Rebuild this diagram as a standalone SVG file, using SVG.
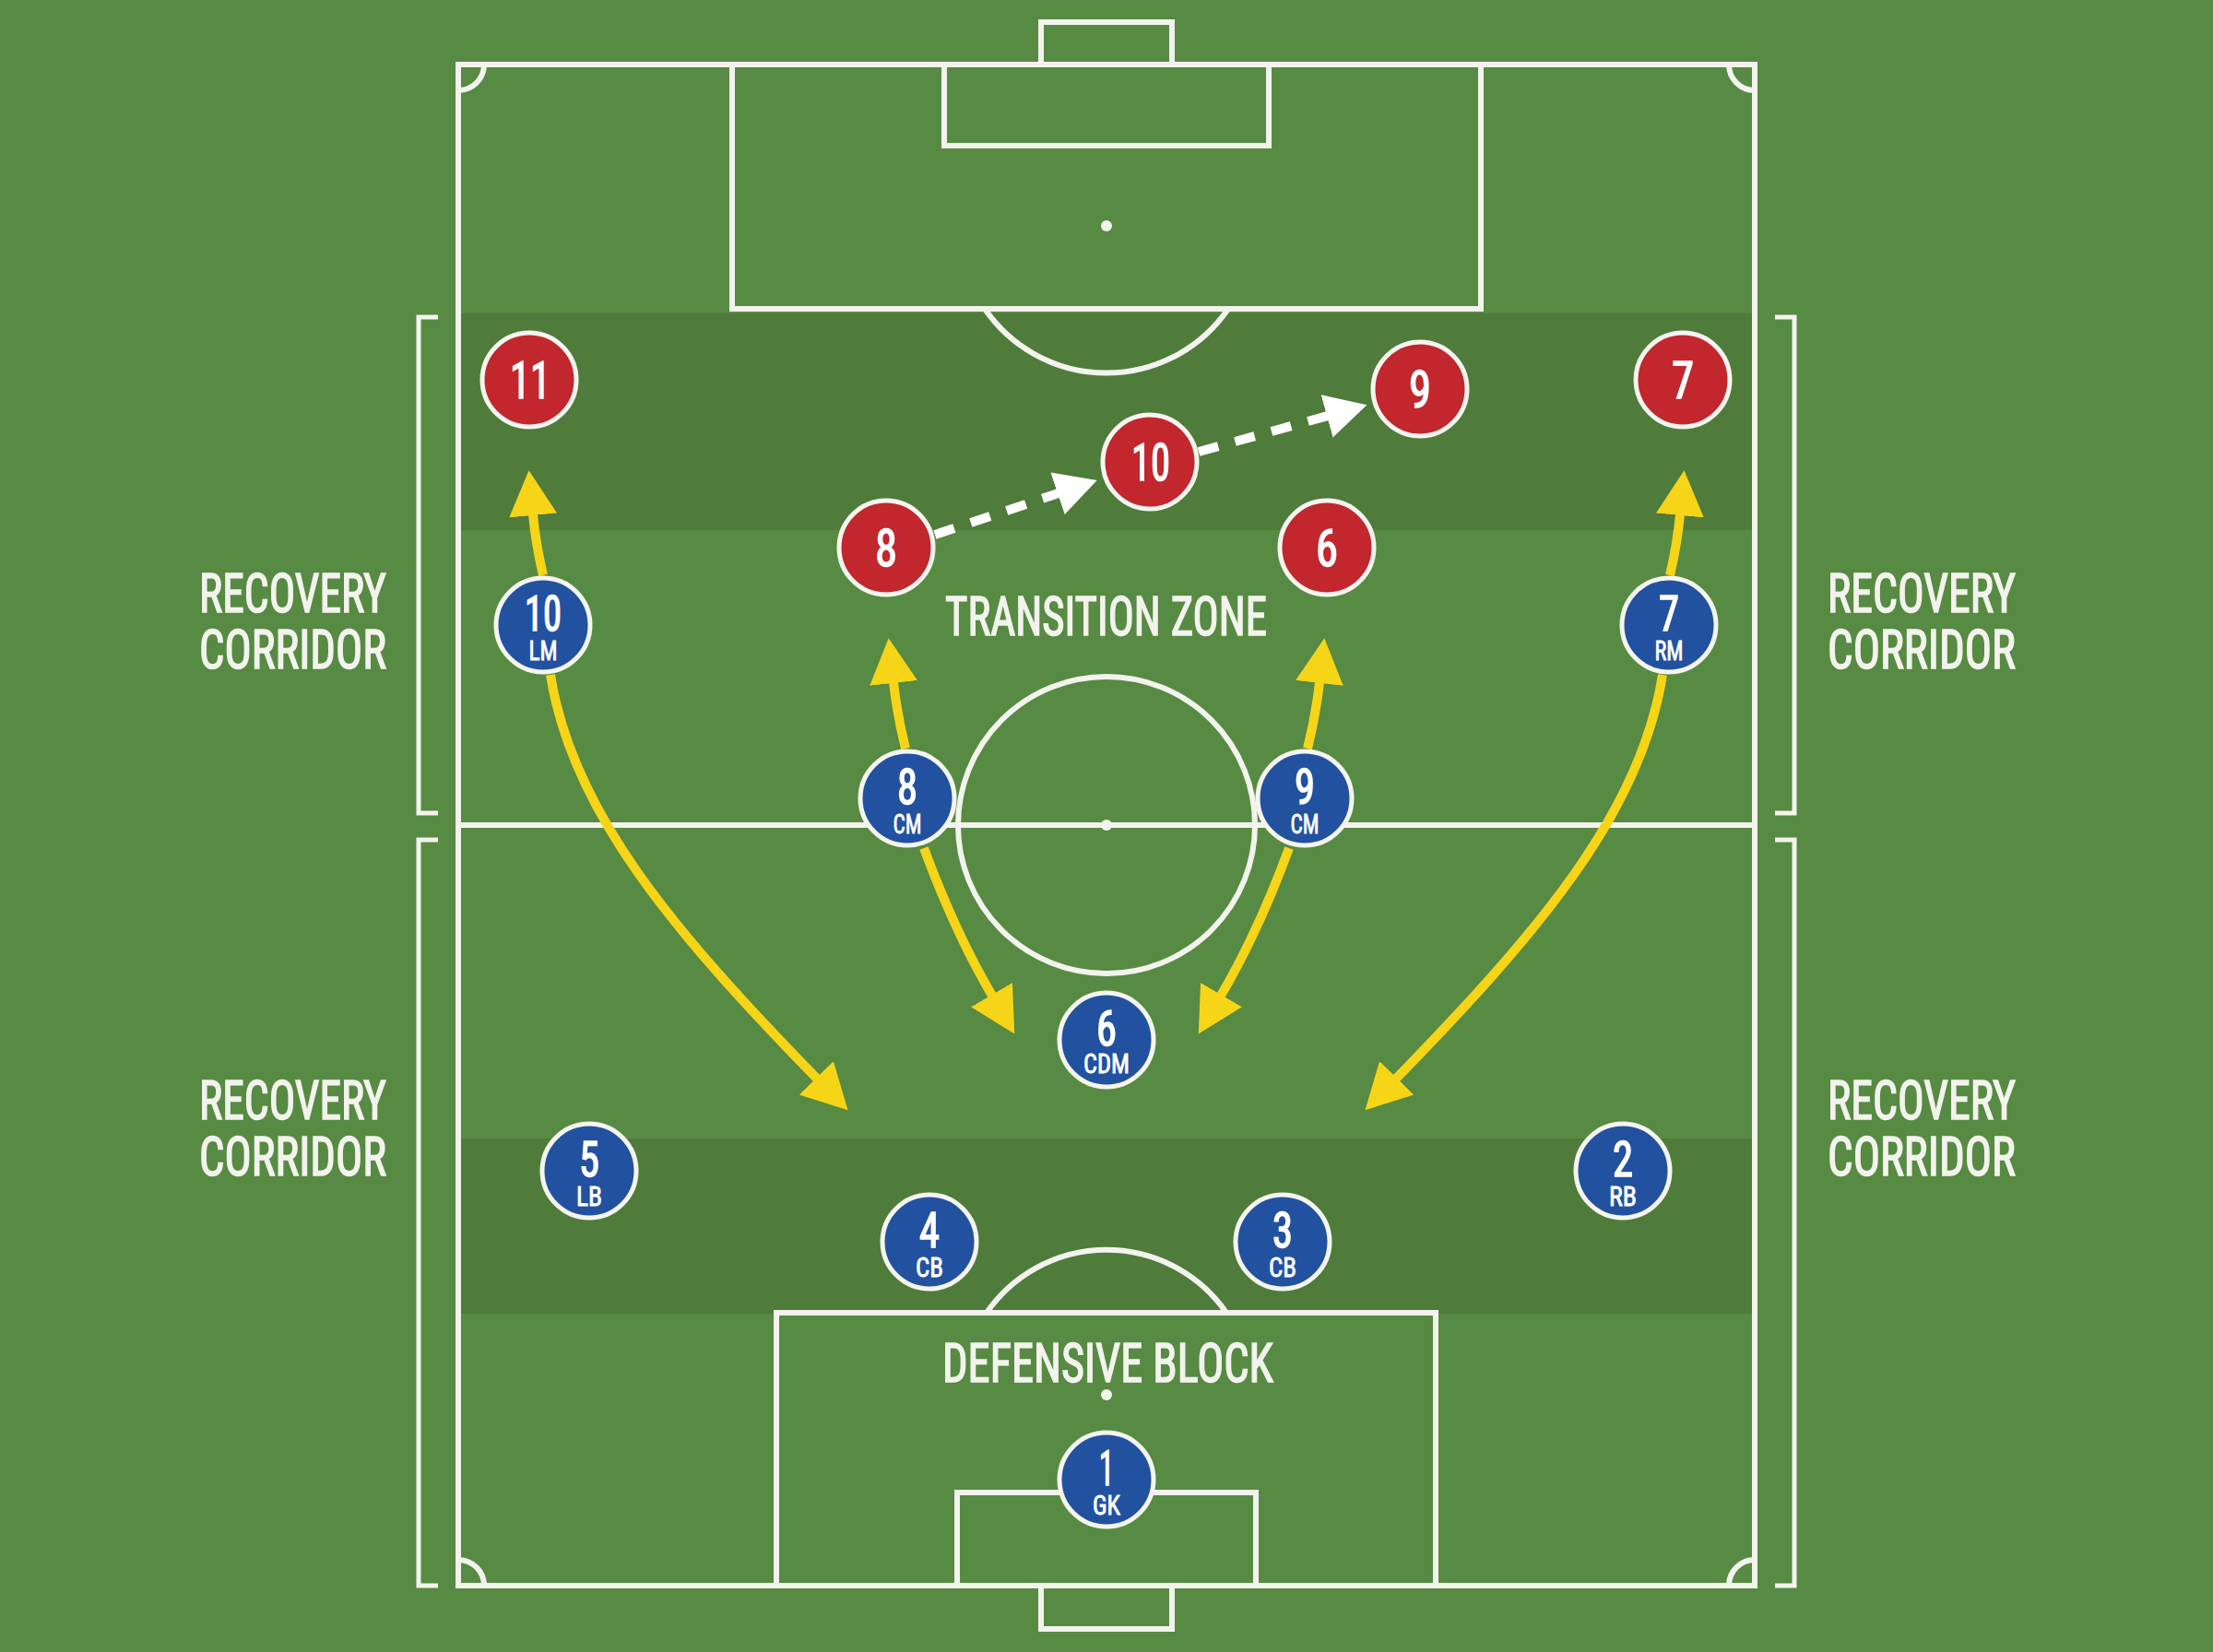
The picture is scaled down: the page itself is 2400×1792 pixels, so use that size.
<svg xmlns="http://www.w3.org/2000/svg" width="2400" height="1792" viewBox="0 0 2400 1792">
<defs>
<style>
.line{fill:none;stroke:#f3f3ee;stroke-width:6}
.brk{fill:none;stroke:#f3f3ee;stroke-width:5}
.band{fill:#4f7b3b}
.lbl{font-family:"Roboto Condensed","Liberation Sans Narrow","DejaVu Sans Condensed","Liberation Sans",sans-serif;font-weight:normal;font-size:60px;fill:#f3f3ee;stroke:#f3f3ee;stroke-width:1.6}
.red circle{fill:#c1272d;stroke:#f5f5f0;stroke-width:5}
.blue circle{fill:#2251a0;stroke:#f5f5f0;stroke-width:5}
.num{font-family:"Roboto Condensed","Liberation Sans Narrow","DejaVu Sans Condensed","Liberation Sans",sans-serif;font-weight:normal;fill:#ffffff;stroke:#ffffff;text-anchor:middle}
.rn{font-size:56px;stroke-width:1.6}
.bn{font-size:54px;stroke-width:1.6}
.sub{font-size:29px;stroke-width:0.8}
.yel{fill:none;stroke:#f6d417;stroke-width:10}
.dash{fill:none;stroke:#ffffff;stroke-width:10;stroke-dasharray:22 19}
</style>
<marker id="ya" markerUnits="userSpaceOnUse" viewBox="0 -27 50 54" markerWidth="50" markerHeight="54" refX="1" refY="0" orient="auto">
<path d="M0,-26 L49,0 L0,26 z" fill="#f6d417"/>
</marker>
<marker id="wa" markerUnits="userSpaceOnUse" viewBox="0 -25 46 50" markerWidth="46" markerHeight="50" refX="1" refY="0" orient="auto">
<path d="M0,-24 L45,0 L0,24 z" fill="#ffffff"/>
</marker>
</defs>
<rect x="0" y="0" width="2400" height="1792" fill="#578a42"/>
<rect class="band" x="498" y="340" width="1404" height="235"/>
<rect class="band" x="498" y="1235" width="1404" height="190"/>
<g id="pitch">
<rect class="line" x="497" y="70" width="1406" height="1650"/>
<line class="line" x1="497" y1="895" x2="1903" y2="895"/>
<circle class="line" cx="1200" cy="895" r="161"/>
<circle cx="1200" cy="895" r="6" fill="#f3f3ee"/>
<path class="line" d="M1129,70 L1129,24 L1271,24 L1271,70"/>
<rect class="line" x="794" y="70" width="812" height="265"/>
<rect class="line" x="1024" y="70" width="352" height="88"/>
<circle cx="1200" cy="245" r="6" fill="#f3f3ee"/>
<path class="line" d="M1068,335 A160,160 0 0 0 1332,335"/>
<path class="line" d="M1129,1720 L1129,1767 L1271,1767 L1271,1720"/>
<rect class="line" x="842" y="1424" width="715" height="296"/>
<rect class="line" x="1038" y="1619" width="324" height="101"/>
<circle cx="1200" cy="1513" r="6" fill="#f3f3ee"/>
<path class="line" d="M1070,1424 A158,158 0 0 1 1330,1424"/>
<path class="line" d="M525,70 A28,28 0 0 1 497,98"/>
<path class="line" d="M1875,70 A28,28 0 0 0 1903,98"/>
<path class="line" d="M497,1692 A28,28 0 0 1 525,1720"/>
<path class="line" d="M1875,1720 A28,28 0 0 1 1903,1692"/>
</g>
<g id="brackets">
<path class="brk" d="M475,344 L454,344 L454,882 L475,882"/>
<path class="brk" d="M475,911 L454,911 L454,1720 L475,1720"/>
<path class="brk" d="M1925,344 L1946,344 L1946,882 L1925,882"/>
<path class="brk" d="M1925,911 L1946,911 L1946,1720 L1925,1720"/>
</g>
<g id="labels">
<text class="lbl" x="216" y="664" textLength="203" lengthAdjust="spacingAndGlyphs">RECOVERY</text>
<text class="lbl" x="216" y="725" textLength="203" lengthAdjust="spacingAndGlyphs">CORRIDOR</text>
<text class="lbl" x="216" y="1214" textLength="203" lengthAdjust="spacingAndGlyphs">RECOVERY</text>
<text class="lbl" x="216" y="1275" textLength="203" lengthAdjust="spacingAndGlyphs">CORRIDOR</text>
<text class="lbl" x="1982" y="664" textLength="204" lengthAdjust="spacingAndGlyphs">RECOVERY</text>
<text class="lbl" x="1982" y="725" textLength="204" lengthAdjust="spacingAndGlyphs">CORRIDOR</text>
<text class="lbl" x="1982" y="1214" textLength="204" lengthAdjust="spacingAndGlyphs">RECOVERY</text>
<text class="lbl" x="1982" y="1275" textLength="204" lengthAdjust="spacingAndGlyphs">CORRIDOR</text>
<text class="lbl" x="1025" y="689" textLength="349" lengthAdjust="spacingAndGlyphs">TRANSITION ZONE</text>
<text class="lbl" x="1022" y="1499" textLength="359" lengthAdjust="spacingAndGlyphs">DEFENSIVE BLOCK</text>
</g>
<g id="connectors">
<path class="yel" d="M589,624 Q581,590 578,558" marker-end="url(#ya)"/>
<path class="yel" d="M597,732 C620,880 730,1010 886,1170" marker-end="url(#ya)"/>
<path class="yel" d="M982,812 Q973,776 969,740" marker-end="url(#ya)"/>
<path class="yel" d="M1002,920 Q1035,1010 1076,1080" marker-end="url(#ya)"/>
<path class="yel" d="M1418,812 Q1427,776 1431,740" marker-end="url(#ya)"/>
<path class="yel" d="M1398,920 Q1365,1010 1324,1080" marker-end="url(#ya)"/>
<path class="yel" d="M1811,624 Q1819,590 1822,558" marker-end="url(#ya)"/>
<path class="yel" d="M1803,732 C1780,880 1670,1010 1514,1170" marker-end="url(#ya)"/>
<path class="dash" d="M1014,580 L1148,535" marker-end="url(#wa)"/>
<path class="dash" d="M1300,490 L1440,451" marker-end="url(#wa)"/>
</g>
<g id="opp-11" class="red"><circle cx="574" cy="412" r="51"/><text class="num rn" x="575" y="432" textLength="44" lengthAdjust="spacingAndGlyphs">11</text></g>
<g id="opp-8" class="red"><circle cx="961" cy="594" r="51"/><text class="num rn" x="961" y="614" textLength="24" lengthAdjust="spacingAndGlyphs">8</text></g>
<g id="opp-10" class="red"><circle cx="1247" cy="501" r="51"/><text class="num rn" x="1248" y="521" textLength="42" lengthAdjust="spacingAndGlyphs">10</text></g>
<g id="opp-9" class="red"><circle cx="1540" cy="422" r="51"/><text class="num rn" x="1540" y="442" textLength="24" lengthAdjust="spacingAndGlyphs">9</text></g>
<g id="opp-6" class="red"><circle cx="1439" cy="594" r="51"/><text class="num rn" x="1439" y="614" textLength="24" lengthAdjust="spacingAndGlyphs">6</text></g>
<g id="opp-7" class="red"><circle cx="1825" cy="412" r="51"/><text class="num rn" x="1825" y="432" textLength="24" lengthAdjust="spacingAndGlyphs">7</text></g>
<g id="lm-10" class="blue"><circle cx="589" cy="678" r="51"/><text class="num bn" x="589" y="684" textLength="40" lengthAdjust="spacingAndGlyphs">10</text><text class="num sub" x="589" y="716" textLength="31" lengthAdjust="spacingAndGlyphs">LM</text></g>
<g id="rm-7" class="blue"><circle cx="1810" cy="678" r="51"/><text class="num bn" x="1810" y="684" textLength="22" lengthAdjust="spacingAndGlyphs">7</text><text class="num sub" x="1810" y="716" textLength="31" lengthAdjust="spacingAndGlyphs">RM</text></g>
<g id="cm-8" class="blue"><circle cx="984" cy="866" r="51"/><text class="num bn" x="984" y="872" textLength="22" lengthAdjust="spacingAndGlyphs">8</text><text class="num sub" x="984" y="904" textLength="31" lengthAdjust="spacingAndGlyphs">CM</text></g>
<g id="cm-9" class="blue"><circle cx="1415" cy="866" r="51"/><text class="num bn" x="1415" y="872" textLength="22" lengthAdjust="spacingAndGlyphs">9</text><text class="num sub" x="1415" y="904" textLength="31" lengthAdjust="spacingAndGlyphs">CM</text></g>
<g id="cdm-6" class="blue"><circle cx="1200" cy="1128" r="51"/><text class="num bn" x="1200" y="1134" textLength="22" lengthAdjust="spacingAndGlyphs">6</text><text class="num sub" x="1200" y="1164" textLength="50" lengthAdjust="spacingAndGlyphs">CDM</text></g>
<g id="lb-5" class="blue"><circle cx="639" cy="1270" r="51"/><text class="num bn" x="639" y="1276" textLength="22" lengthAdjust="spacingAndGlyphs">5</text><text class="num sub" x="639" y="1308" textLength="28" lengthAdjust="spacingAndGlyphs">LB</text></g>
<g id="rb-2" class="blue"><circle cx="1760" cy="1270" r="51"/><text class="num bn" x="1760" y="1276" textLength="22" lengthAdjust="spacingAndGlyphs">2</text><text class="num sub" x="1760" y="1308" textLength="30" lengthAdjust="spacingAndGlyphs">RB</text></g>
<g id="cb-4" class="blue"><circle cx="1008" cy="1347" r="51"/><text class="num bn" x="1008" y="1353" textLength="22" lengthAdjust="spacingAndGlyphs">4</text><text class="num sub" x="1008" y="1385" textLength="30" lengthAdjust="spacingAndGlyphs">CB</text></g>
<g id="cb-3" class="blue"><circle cx="1391" cy="1347" r="51"/><text class="num bn" x="1391" y="1353" textLength="22" lengthAdjust="spacingAndGlyphs">3</text><text class="num sub" x="1391" y="1385" textLength="30" lengthAdjust="spacingAndGlyphs">CB</text></g>
<g id="gk-1" class="blue"><circle cx="1200" cy="1605" r="51"/><text class="num bn" x="1200" y="1611" textLength="16" lengthAdjust="spacingAndGlyphs">1</text><text class="num sub" x="1200" y="1643" textLength="30" lengthAdjust="spacingAndGlyphs">GK</text></g>
</svg>
